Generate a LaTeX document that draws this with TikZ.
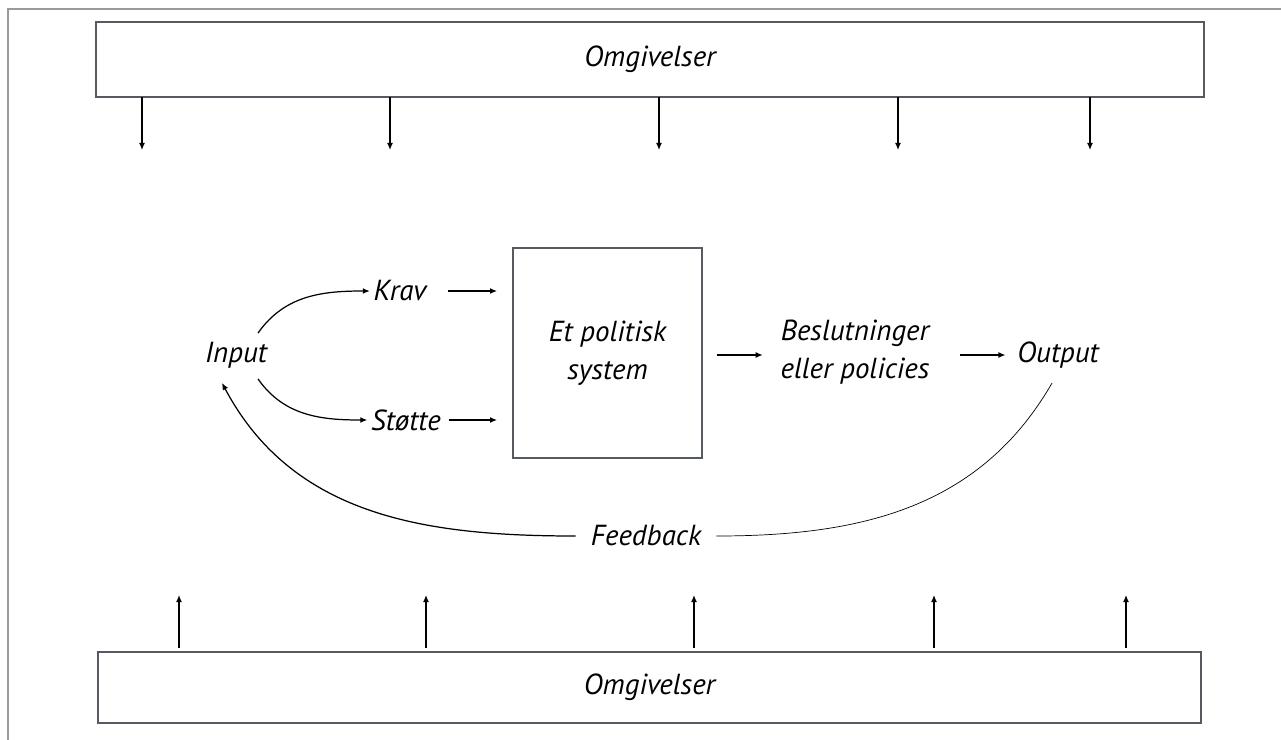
\documentclass[tikz,border=0pt]{standalone}
\usepackage{fontspec}
\setmainfont{PT Sans}
\usetikzlibrary{arrows.meta, positioning}
\definecolor{boxgray}{HTML}{565B62}
\definecolor{framegray}{HTML}{9A9A9A}

\begin{document}
\begin{tikzpicture}[x=0.02cm, y=0.02cm, font=\fontsize{16.5}{21.5}\selectfont\itshape,
  envbox/.style={draw=boxgray, line width=1.1pt, inner sep=0pt, outer sep=0pt, align=center},
  arr/.style={-{Latex[length=4pt,width=3.4pt]}, line width=0.7pt},
  lbl/.style={inner sep=2pt, align=center}]
  \useasboundingbox (0,0) rectangle (1281,-740);
  \draw[framegray, line width=1.2pt] (8,-740) -- (8,-9) -- (1281,-9);

  % omgivelser, top and bottom
  \node[envbox, minimum width=22.16cm, minimum height=1.5cm] (omgtop) at (650,-59.5) {Omgivelser};
  \node[envbox, minimum width=22.06cm, minimum height=1.42cm] (omgbot) at (649.5,-687.5) {Omgivelser};
  \foreach \x in {142,390,659,898,1090}
    \draw[arr] (omgtop.south -| \x,0) -- ++(0,-53);
  \foreach \x in {179,426,694,934,1126}
    \draw[arr, shorten <=0.08cm] (omgbot.north -| \x,0) -- ++(0,57);

  % the system
  \node[envbox, minimum width=3.78cm, minimum height=4.2cm] (system) at (607.5,-353) {Et politisk\\system};
  \node[lbl] (input) at (236,-355) {Input};
  \node[lbl] (krav) at (400,-291) {Krav};
  \node[lbl] (stotte) at (406,-420) {Støtte};
  \node[lbl] (beslut) at (855,-352) {Beslutninger\\eller policies};
  \node[lbl] (output) at (1058,-355) {Output};
  \node[lbl, inner xsep=0.3cm] (feedback) at (646,-536) {Feedback};

  \draw[arr] ([shift={(22,5)}]input.north) to[out=55, in=180] (krav.west);
  \draw[arr] ([shift={(22,-7)}]input.south) to[out=-55, in=180] (stotte.west);
  \draw[arr, shorten <=0.36cm, shorten >=0.32cm] (krav.east) -- (krav.east -| system.west);
  \draw[arr, shorten <=0.08cm, shorten >=0.32cm] (stotte.east) -- (stotte.east -| system.west);
  \draw[arr, shorten <=0.3cm, shorten >=0.28cm] (system.east |- output) -- (beslut.west |- output);
  \draw[arr, shorten <=0.54cm, shorten >=0.16cm] (beslut.east |- output) -- (output.west);

  % feedback loop
  \draw ([shift={(-6,-11)}]output.south) to[out=-120, in=0] (feedback.east);
  \draw[arr] (feedback.west) to[out=180, in=-62] ([shift={(-14,-11)}]input.south);
\end{tikzpicture}
\end{document}
